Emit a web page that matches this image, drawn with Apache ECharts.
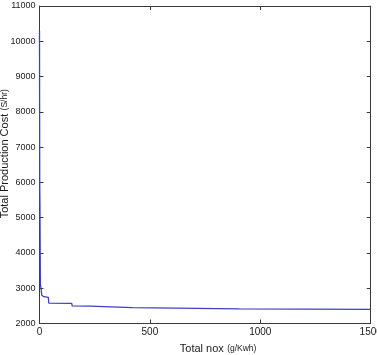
<!DOCTYPE html>
<html>
<head>
<meta charset="utf-8">
<script src="https://cdn.jsdelivr.net/npm/echarts@6/dist/echarts.min.js"></script>
<style>
  html, body { margin: 0; padding: 0; background: #fff; }
  #chart { width: 377px; height: 355px; }
</style>
</head>
<body>
<div id="chart"></div>
<script>
// pareto front: [total nox, total production cost]
const noxValues = [0, 1, 2, 3, 4, 8, 10, 20, 40, 42, 146, 148, 229, 231, 422, 424, 905, 907, 1500];
const costValues = [10300, 6000, 5400, 4200, 3100, 2950, 2800, 2760, 2740, 2580, 2570, 2500, 2490, 2450, 2450, 2420, 2415, 2400, 2400];
const xTicks = [0, 500, 1000, 1500];
const yTicks = [2000, 3000, 4000, 5000, 6000, 7000, 8000, 9000, 10000, 11000];

const axisColor = "#3a3a3a";
const labelFont = "'Liberation Sans', Arial, sans-serif";

const chart = echarts.init(document.getElementById("chart"), null, { renderer: "canvas" });

const boxAxis = (extra) => Object.assign({
  type: "value",
  axisLine: { show: true, onZero: false, lineStyle: { color: axisColor, width: 1 } },
  axisTick: { show: true, inside: true, length: 4, lineStyle: { color: axisColor } },
  splitLine: { show: false },
}, extra);

chart.setOption({
  backgroundColor: "#ffffff",
  animation: false,
  grid: { left: 39.5, right: 6.3, top: 6, bottom: 31.5, outerBoundsMode: "none", containLabel: false },
  xAxis: [
    boxAxis({
      min: xTicks[0],
      max: xTicks[xTicks.length - 1],
      interval: 500,
      axisLabel: { color: "#1a1a1a", fontSize: 10, fontFamily: labelFont, margin: 4, formatter: (v) => String(v) },
      name: "{a|Total nox} {b|(g/Kwh)}",
      nameLocation: "middle",
      nameGap: 19,
      nameMoveOverlap: false,
      nameTextStyle: {
        padding: [0, 0, 0, 26],
        rich: {
          a: { fontSize: 11, color: "#1a1a1a", fontFamily: labelFont },
          b: { fontSize: 8.5, color: "#1a1a1a", fontFamily: labelFont },
        },
      },
    }),
    boxAxis({
      position: "top",
      min: xTicks[0],
      max: xTicks[xTicks.length - 1],
      interval: 500,
      axisLabel: { show: false },
    }),
  ],
  yAxis: [
    boxAxis({
      min: yTicks[0],
      max: yTicks[yTicks.length - 1],
      interval: 1000,
      axisLabel: { color: "#1a1a1a", fontSize: 9, fontFamily: labelFont, margin: 4, formatter: (v) => String(v) },
      name: "{a|Total Production Cost} {b|(S/hr)}",
      nameLocation: "middle",
      nameGap: 29,
      nameRotate: 90,
      nameMoveOverlap: false,
      nameTextStyle: {
        padding: [0, 0, 0, 22],
        rich: {
          a: { fontSize: 11, color: "#1a1a1a", fontFamily: labelFont },
          b: { fontSize: 8.5, color: "#1a1a1a", fontFamily: labelFont },
        },
      },
    }),
    boxAxis({
      position: "right",
      min: yTicks[0],
      max: yTicks[yTicks.length - 1],
      interval: 1000,
      axisLabel: { show: false },
    }),
  ],
  series: [
    {
      type: "line",
      data: noxValues.map((x, i) => [x, costValues[i]]),
      showSymbol: false,
      lineStyle: { color: "#3f3fc6", width: 1.3 },
    },
  ],
});
</script>
</body>
</html>
